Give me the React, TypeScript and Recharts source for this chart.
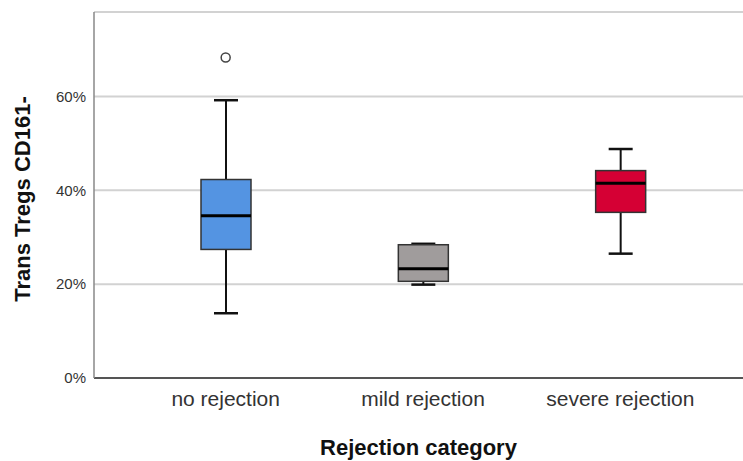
import { ComposedChart, Bar, Line, XAxis, YAxis, CartesianGrid } from "recharts"

const categories = ["no rejection", "mild rejection", "severe rejection"]
const mins = [13.8, 19.9, 26.5]
const q1s = [27.4, 20.6, 35.3]
const medians = [34.6, 23.3, 41.5]
const q3s = [42.3, 28.4, 44.2]
const maxs = [59.2, 28.6, 48.8]
const outliers: (number | null)[] = [68.3, null, null]
const boxColors = ["#5494e2", "#a09c9c", "#d50034"]
const yTicks = [0, 20, 40, 60]

const data = categories.map((name, i) => ({
  name,
  min: mins[i],
  q1: q1s[i],
  median: medians[i],
  q3: q3s[i],
  max: maxs[i],
  outlier: outliers[i],
  color: boxColors[i],
}))

const font = "'Liberation Sans', Arial, sans-serif"

function BoxShape(props: any) {
  const { x, y, width, height, payload } = props
  const { min, max, q1, median, q3, color } = payload
  // map a value onto the pixel span that Recharts gave for [min, max]
  const py = (v: number) => y + ((max - v) / (max - min)) * height
  const cx = x + width / 2
  const cap = 12
  return (
    <g>
      <line x1={cx} x2={cx} y1={py(max)} y2={py(q3)} stroke="#111" strokeWidth={2} />
      <line x1={cx} x2={cx} y1={py(q1)} y2={py(min)} stroke="#111" strokeWidth={2} />
      <line x1={cx - cap} x2={cx + cap} y1={py(max)} y2={py(max)} stroke="#111" strokeWidth={2.5} />
      <line x1={cx - cap} x2={cx + cap} y1={py(min)} y2={py(min)} stroke="#111" strokeWidth={2.5} />
      <rect
        x={x}
        y={py(q3)}
        width={width}
        height={py(q1) - py(q3)}
        fill={color}
        stroke="#333"
        strokeWidth={1.5}
      />
      <line x1={x} x2={x + width} y1={py(median)} y2={py(median)} stroke="#000" strokeWidth={3} />
    </g>
  )
}

function OutlierDot(props: any) {
  const { cx, cy, value, index } = props
  if (value == null || cy == null) return <g key={`o-${index}`} />
  return <circle key={`o-${index}`} cx={cx} cy={cy} r={4.5} fill="#fff" stroke="#444" strokeWidth={1.5} />
}

export default function App() {
  return (
    <div style={{ position: "absolute", left: 0, top: 0, background: "#fff", fontFamily: font }}>
      <ComposedChart width={743} height={461} data={data} margin={{ top: 12, right: 0, left: 0, bottom: 0 }}>
        <CartesianGrid vertical={false} stroke="#d2d2d2" strokeWidth={2} />
        <XAxis
          dataKey="name"
          height={83}
          padding={{ left: 33, right: 24 }}
          tickLine={false}
          tickSize={6}
          tickMargin={7}
          interval={0}
          axisLine={{ stroke: "#555", strokeWidth: 2 }}
          tick={{ fontSize: 21, fill: "#333", fontFamily: font }}
          label={{
            value: "Rejection category",
            position: "insideBottom",
            offset: 6,
            fontSize: 22,
            fontWeight: "bold",
            fill: "#111",
            fontFamily: font,
          }}
        />
        <YAxis
          width={94}
          domain={[0, 78]}
          ticks={yTicks}
          tickFormatter={(v) => `${v}%`}
          tickLine={false}
          axisLine={{ stroke: "#888", strokeWidth: 1.5 }}
          tick={{ fontSize: 15, fill: "#333", fontFamily: font }}
          label={{
            content: (p: any) => {
              const vb = p.viewBox
              const cy = vb.y + vb.height / 2 + 4
              return (
                <text
                  x={22}
                  y={cy}
                  transform={`rotate(-90 22 ${cy})`}
                  textAnchor="middle"
                  dominantBaseline="central"
                  fontSize={22}
                  fontWeight="bold"
                  fill="#111"
                  fontFamily={font}
                >
                  Trans Tregs CD161-
                </text>
              )
            },
          }}
        />
        <Bar dataKey={(d: any) => [d.min, d.max]} barSize={50} shape={BoxShape} isAnimationActive={false} />
        <Line
          dataKey="outlier"
          stroke="none"
          dot={OutlierDot}
          activeDot={false}
          legendType="none"
          isAnimationActive={false}
        />
      </ComposedChart>
    </div>
  )
}
